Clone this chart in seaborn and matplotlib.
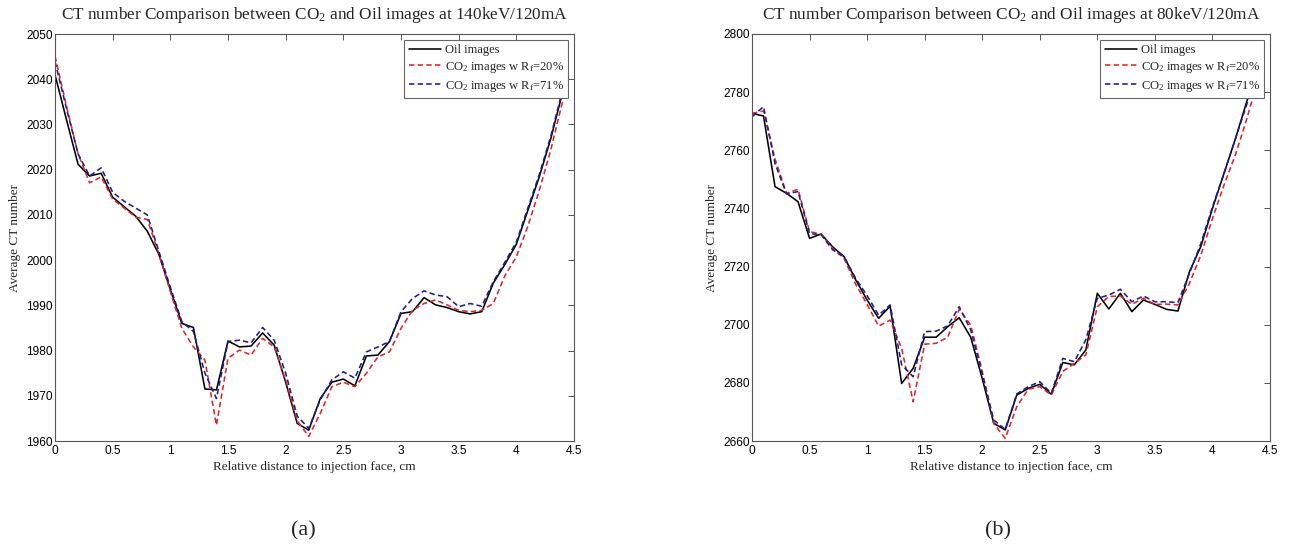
import matplotlib
matplotlib.use("Agg")
import matplotlib.pyplot as plt
import pandas as pd
import seaborn as sns

# distance from injection face, cm
distance = [0.0, 0.1, 0.2, 0.3, 0.4, 0.5, 0.6, 0.7, 0.8, 0.9,
            1.0, 1.1, 1.2, 1.3, 1.4, 1.5, 1.6, 1.7, 1.8, 1.9,
            2.0, 2.1, 2.2, 2.3, 2.4, 2.5, 2.6, 2.7, 2.8, 2.9,
            3.0, 3.1, 3.2, 3.3, 3.4, 3.5, 3.6, 3.7, 3.8, 3.9,
            4.0, 4.1, 4.2, 4.3, 4.4]

# (a) 140keV/120mA
oil_140 = [2041.0, 2031.0, 2021.2, 2018.6, 2019.2, 2013.9, 2011.8, 2009.7, 2006.4, 2001.3,
           1993.5, 1986.0, 1985.1, 1971.5, 1971.3, 1982.1, 1980.8, 1981.0, 1983.9, 1981.2,
           1973.0, 1963.9, 1962.4, 1969.4, 1973.0, 1973.7, 1972.2, 1978.8, 1979.0, 1982.0,
           1988.2, 1988.6, 1991.7, 1990.1, 1989.5, 1988.6, 1988.1, 1988.6, 1994.9, 1999.0,
           2003.5, 2011.0, 2018.5, 2027.0, 2037.0]
co2_20_140 = [2045.1, 2034.0, 2023.5, 2017.1, 2018.4, 2013.5, 2011.5, 2009.5, 2009.0, 2001.5,
              1993.0, 1984.9, 1980.8, 1977.9, 1963.5, 1978.3, 1980.1, 1979.0, 1982.7, 1980.8,
              1973.5, 1964.5, 1961.0, 1966.1, 1972.0, 1973.0, 1972.0, 1975.0, 1978.6, 1979.7,
              1984.9, 1988.9, 1990.4, 1991.2, 1990.1, 1988.9, 1988.6, 1988.9, 1990.4, 1996.5,
              2000.7, 2007.5, 2015.5, 2024.5, 2035.0]
co2_71_140 = [2043.9, 2033.5, 2023.5, 2018.6, 2020.4, 2015.0, 2013.0, 2011.5, 2010.0, 2002.0,
              1994.0, 1986.4, 1984.2, 1975.0, 1969.4, 1982.0, 1982.3, 1981.7, 1985.1, 1982.3,
              1975.0, 1965.5, 1962.8, 1969.1, 1973.5, 1975.3, 1973.9, 1979.7, 1980.8, 1982.0,
              1988.6, 1991.5, 1993.2, 1992.3, 1991.9, 1989.7, 1990.4, 1989.8, 1995.2, 1999.5,
              2004.0, 2011.5, 2019.0, 2027.5, 2037.5]

# (b) 80keV/120mA
oil_80 = [2772.7, 2771.8, 2747.5, 2745.2, 2742.3, 2729.7, 2731.2, 2726.8, 2723.4, 2715.5,
          2708.5, 2702.2, 2706.4, 2679.8, 2685.0, 2695.7, 2695.7, 2699.3, 2702.4, 2695.7,
          2681.5, 2666.1, 2663.8, 2675.8, 2678.1, 2679.5, 2676.1, 2687.0, 2686.2, 2691.3,
          2710.8, 2705.4, 2710.8, 2704.5, 2708.5, 2707.0, 2705.3, 2704.7, 2718.2, 2727.0,
          2740.0, 2752.0, 2764.0, 2777.0, 2789.0]
co2_20_80 = [2772.7, 2773.5, 2757.0, 2745.2, 2746.6, 2732.0, 2731.2, 2726.3, 2722.8, 2714.0,
             2707.0, 2699.5, 2701.6, 2691.9, 2673.5, 2693.3, 2693.6, 2695.7, 2705.3, 2699.9,
             2684.0, 2666.0, 2660.9, 2671.8, 2677.8, 2678.7, 2675.8, 2683.9, 2686.7, 2689.6,
             2706.2, 2709.7, 2709.9, 2707.0, 2709.1, 2707.0, 2707.1, 2706.8, 2714.2, 2724.0,
             2736.5, 2748.0, 2758.5, 2771.0, 2785.0]
co2_71_80 = [2771.5, 2775.0, 2755.5, 2745.0, 2745.8, 2731.3, 2731.0, 2725.8, 2723.4, 2716.0,
             2710.0, 2703.3, 2706.8, 2686.2, 2682.1, 2697.6, 2697.8, 2699.6, 2706.2, 2698.2,
             2683.0, 2667.2, 2664.0, 2676.2, 2678.7, 2680.4, 2676.4, 2688.4, 2687.3, 2694.8,
             2709.1, 2710.2, 2712.2, 2707.9, 2709.9, 2707.9, 2707.9, 2707.6, 2717.7, 2728.0,
             2740.5, 2752.0, 2764.0, 2776.0, 2789.0]

x_ticks = [0, 0.5, 1, 1.5, 2, 2.5, 3, 3.5, 4, 4.5]
x_ticklabels = ['0', '0.5', '1', '1.5', '2', '2.5', '3', '3.5', '4', '4.5']
y_ticks_a = [1960, 1970, 1980, 1990, 2000, 2010, 2020, 2030, 2040, 2050]
y_ticks_b = [2660, 2680, 2700, 2720, 2740, 2760, 2780, 2800]

labels = ['Oil images', r'CO$_2$ images w R$_\mathrm{f}$=20%', r'CO$_2$ images w R$_\mathrm{f}$=71%']
colors = ['black', '#e0262a', '#1d1d96']

sns.set_theme(style="white")
plt.rcParams['font.family'] = ['Liberation Serif', 'DejaVu Serif']
plt.rcParams['mathtext.fontset'] = 'custom'
plt.rcParams['mathtext.rm'] = 'Liberation Serif'
plt.rcParams['mathtext.it'] = 'Liberation Serif:italic'

fig = plt.figure(figsize=(13.03, 5.48), dpi=100)
ax_a = fig.add_axes([55 / 1303, 107 / 548, 519 / 1303, 407 / 548])
ax_b = fig.add_axes([752 / 1303, 107 / 548, 518 / 1303, 407 / 548])


def draw_panel(ax, series, yticks, title):
    for i, vals in enumerate(series):
        df = pd.DataFrame({'x': distance, 'y': vals})
        sns.lineplot(data=df, x='x', y='y', ax=ax, color=colors[i], label=labels[i],
                     linewidth=1.15, errorbar=None)
        if i > 0:
            ax.get_lines()[-1].set_dashes((3.4, 2.0))
    ax.set_xlim(0, 4.5)
    ax.set_ylim(yticks[0], yticks[-1])
    ax.set_xticks(x_ticks)
    ax.set_xticklabels(x_ticklabels)
    ax.set_yticks(yticks)
    ax.set_yticklabels([str(t) for t in yticks])
    for lab in ax.get_xticklabels() + ax.get_yticklabels():
        lab.set_family(['Liberation Sans', 'DejaVu Sans'])
        lab.set_fontsize(8.6)
    ax.tick_params(direction='in', length=4, width=0.7, colors='#555555',
                   top=True, right=True, labelcolor='black')
    ax.tick_params(axis='y', pad=1.5)
    ax.tick_params(axis='x', pad=3)
    for sp in ax.spines.values():
        sp.set_color('#555555')
        sp.set_linewidth(0.8)
    ax.set_xlabel('Relative distance to injection face, cm', fontsize=9.5, labelpad=3)
    ax.set_ylabel('Average CT number', fontsize=9.5, labelpad=4)
    ax.set_title(title, fontsize=12.4, pad=11)
    leg = ax.legend(loc='upper right', fontsize=9, frameon=True, fancybox=False,
                    handlelength=2.6, handletextpad=0.3, labelspacing=0.3,
                    borderpad=0.35, borderaxespad=0.45)
    leg.get_frame().set_edgecolor('#666666')
    leg.get_frame().set_linewidth(0.8)
    leg.get_frame().set_alpha(1)


draw_panel(ax_a, [oil_140, co2_20_140, co2_71_140], y_ticks_a,
           r'CT number Comparison between CO$_2$ and Oil images at 140keV/120mA')
draw_panel(ax_b, [oil_80, co2_20_80, co2_71_80], y_ticks_b,
           r'CT number Comparison between CO$_2$ and Oil images at 80keV/120mA')

fig.text(303 / 1303, 1 - 531 / 548, '(a)', fontsize=16, ha='center', va='center')
fig.text(998 / 1303, 1 - 531 / 548, '(b)', fontsize=16, ha='center', va='center')

fig.savefig('out.png', dpi=100)
